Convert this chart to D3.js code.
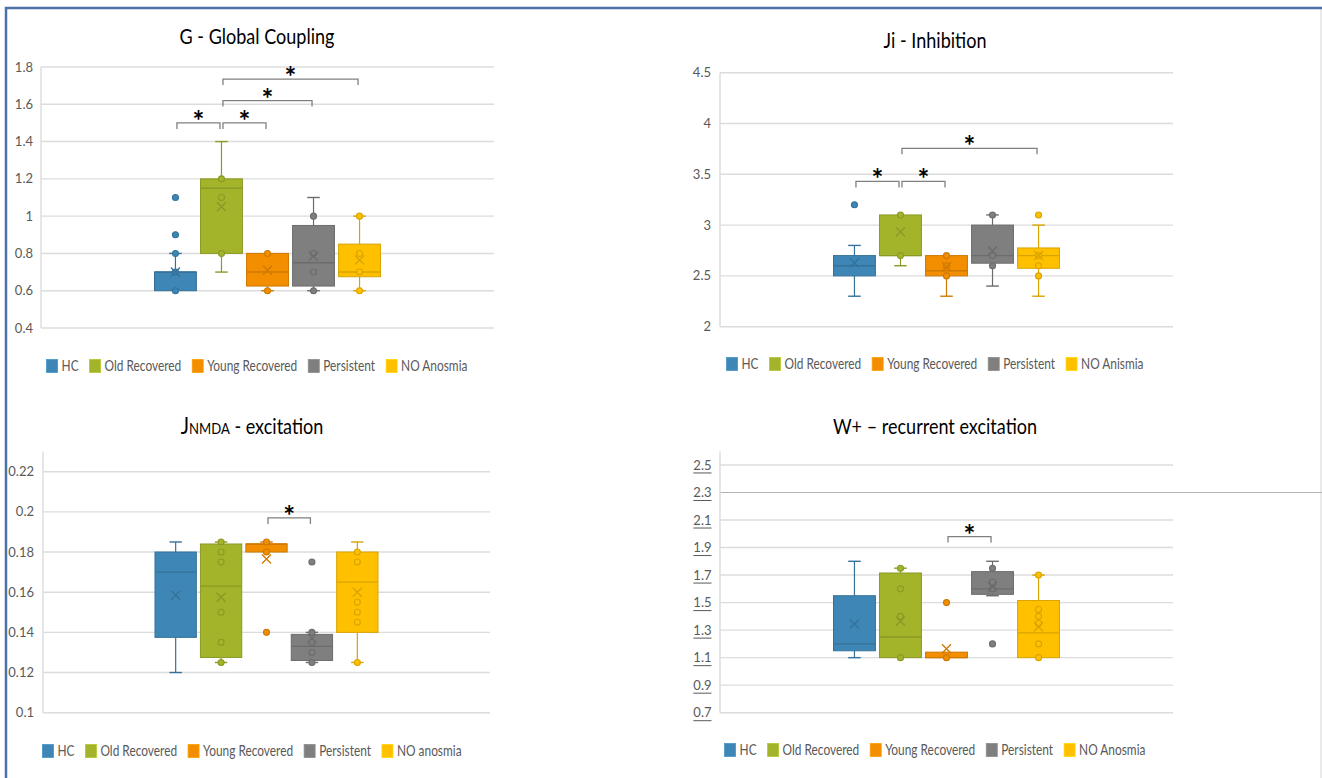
<!DOCTYPE html>
<html lang="en">
<head>
<meta charset="utf-8">
<title>Model parameters by group</title>
<script src="https://d3js.org/d3.v7.min.js"></script>
<style>
  body { margin: 0; background: #fff; }
  svg { display: block; font-family: Lato, "Open Sans", sans-serif; }
  .tick-label { fill: #595959; font-size: 13px; }
  .legend text { fill: #595959; font-size: 14.5px; }
  .title { fill: #000; font-size: 22px; }
  .star { font-size: 28px; font-weight: bold; fill: #000; }
</style>
</head>
<body>
<div id="chart"></div>
<script>
// groups and colours (same order in every panel)
var groups = ["HC", "Old Recovered", "Young Recovered", "Persistent", "NO Anosmia"];
var colors = ["#3e86b5", "#a3b42b", "#f28e00", "#7f7f7f", "#ffc000"];

// box stats: [min, q1, median, q3, max, mean]
// G - global coupling
var gStats = [
  [0.6, 0.6, 0.7, 0.7, 0.8, 0.70],
  [0.7, 0.8, 1.15, 1.2, 1.4, 1.05],
  [0.6, 0.625, 0.7, 0.8, 0.8, 0.71],
  [0.6, 0.625, 0.75, 0.95, 1.1, 0.785],
  [0.6, 0.675, 0.7, 0.85, 1.0, 0.765]
];
var gPoints = [[0.6, 0.7, 0.8], [0.8, 1.1, 1.2], [0.6, 0.8], [0.6, 0.7, 0.8, 1.0], [0.6, 0.7, 0.8, 1.0]];
var gOutliers = [[0.9, 1.1], [], [], [], []];
var gSig = [[0, 1, 1.5], [1, 2, 1.5], [1, 3, 1.62], [1, 4, 1.735]];
var gTicks = [0.4, 0.6, 0.8, 1, 1.2, 1.4, 1.6, 1.8];
var gLegend = ["HC", "Old Recovered", "Young Recovered", "Persistent", "NO Anosmia"];

// Ji - inhibition
var jiStats = [
  [2.3, 2.5, 2.6, 2.7, 2.8, 2.63],
  [2.6, 2.7, 2.7, 3.1, 3.1, 2.935],
  [2.3, 2.5, 2.55, 2.7, 2.7, 2.59],
  [2.4, 2.625, 2.7, 3.0, 3.1, 2.745],
  [2.3, 2.575, 2.7, 2.775, 3.0, 2.7]
];
var jiPoints = [[], [2.7, 3.1], [2.5, 2.6, 2.7], [2.6, 2.7, 3.1], [2.5, 2.6, 2.7]];
var jiOutliers = [[3.2], [], [], [], [3.1]];
var jiSig = [[0, 1, 3.43], [1, 2, 3.43], [1, 4, 3.756]];
var jiTicks = [2, 2.5, 3, 3.5, 4, 4.5];
var jiLegend = ["HC", "Old Recovered", "Young Recovered", "Persistent", "NO Anismia"];

// JNMDA - excitation
var jnStats = [
  [0.12, 0.1375, 0.17, 0.18, 0.185, 0.1585],
  [0.125, 0.1275, 0.163, 0.184, 0.185, 0.1575],
  [0.18, 0.18, 0.184, 0.184, 0.185, 0.1765],
  [0.125, 0.126, 0.133, 0.139, 0.14, 0.137],
  [0.125, 0.14, 0.165, 0.18, 0.185, 0.16]
];
var jnPoints = [[], [0.125, 0.135, 0.15, 0.175, 0.18, 0.185], [0.18, 0.185], [0.125, 0.13, 0.135, 0.14], [0.125, 0.145, 0.15, 0.155, 0.175, 0.18]];
var jnOutliers = [[], [], [0.14], [0.175], []];
var jnSig = [[2, 3, 0.197]];
var jnTicks = [0.1, 0.12, 0.14, 0.16, 0.18, 0.2, 0.22];
var jnLegend = ["HC", "Old Recovered", "Young Recovered", "Persistent", "NO anosmia"];

// W+ - recurrent excitation
var wStats = [
  [1.1, 1.15, 1.2, 1.55, 1.8, 1.345],
  [1.1, 1.1, 1.25, 1.715, 1.75, 1.365],
  [1.1, 1.1, 1.1, 1.14, 1.14, 1.165],
  [1.55, 1.56, 1.6, 1.725, 1.8, 1.615],
  [1.1, 1.1, 1.28, 1.515, 1.7, 1.325]
];
var wPoints = [[], [1.1, 1.4, 1.6, 1.75], [1.1], [1.6, 1.65, 1.75], [1.1, 1.2, 1.35, 1.4, 1.45, 1.7]];
var wOutliers = [[], [], [1.5], [1.2], []];
var wSig = [[2, 3, 1.98]];
var wTicks = [0.7, 0.9, 1.1, 1.3, 1.5, 1.7, 1.9, 2.1, 2.3, 2.5];
var wLegend = ["HC", "Old Recovered", "Young Recovered", "Persistent", "NO Anosmia"];

var panels = [
  { title: [["G - Global Coupling", 22]], stats: gStats, points: gPoints, outliers: gOutliers,
    sig: gSig, ticks: gTicks, legend: gLegend, domain: [0.4, 1.8], yRange: [328, 67],
    left: 41, right: 494, labelX: 33, cx: 257, titleY: 44, legendY: 366 },
  { title: [["Ji - Inhibition", 22]], stats: jiStats, points: jiPoints, outliers: jiOutliers,
    sig: jiSig, ticks: jiTicks, legend: jiLegend, domain: [2, 4.5], yRange: [326.7, 72.7],
    left: 720, right: 1173, labelX: 711, cx: 935, titleY: 48, legendY: 364 },
  { title: [["J", 24], ["NMDA", 16], [" - excitation", 22]], stats: jnStats, points: jnPoints, outliers: jnOutliers,
    sig: jnSig, ticks: jnTicks, legend: jnLegend, domain: [0.1, 0.23], yRange: [712.7, 451.6],
    left: 43, right: 490, labelX: 34, cx: 252, titleY: 434, legendY: 751 },
  { title: [["W+ \u2013 recurrent excitation", 22]], stats: wStats, points: wPoints, outliers: wOutliers,
    sig: wSig, ticks: wTicks, legend: wLegend, domain: [0.7, 2.6], yRange: [712.7, 451.2],
    left: 720, right: 1173, labelX: 711.5, cx: 935, titleY: 434, legendY: 750,
    underline: true, darkLine: 2.3 }
];

var W = 1322, H = 778;
var narrow = 0.82;   // squeeze Lato toward a Calibri-like width
var svg = d3.select("#chart").append("svg").attr("width", W).attr("height", H);

// outer frame
svg.append("line").attr("x1", 1321).attr("x2", 1321).attr("y1", 8).attr("y2", H)
  .attr("stroke", "#d6d6d6").attr("stroke-width", 1);
svg.append("path").attr("d", "M6," + H + "V8H" + W)
  .attr("fill", "none").attr("stroke", "#4a72a8").attr("stroke-width", 2.5);

panels.forEach(function(p) {
  var g = svg.append("g");
  var y = d3.scaleLinear().domain(p.domain).range(p.yRange);
  var w = p.right - p.left;
  var x = d3.scaleBand().domain(groups)
    .range([p.left + w * 0.246, p.right - w * 0.246])
    .paddingInner(0.09).paddingOuter(0.045);
  var bw = x.bandwidth();

  // gridlines
  g.selectAll(".grid").data(p.ticks).enter().append("line")
    .attr("x1", p.left).attr("x2", function(d) { return d === p.darkLine ? W : p.right; })
    .attr("y1", function(d) { return y(d); }).attr("y2", function(d) { return y(d); })
    .attr("stroke", function(d) { return d === p.darkLine ? "#b4b4b4" : "#dcdcdc"; })
    .attr("stroke-width", function(d) { return d === p.darkLine ? 1 : 1.4; });
  g.append("line").attr("x1", p.left).attr("x2", p.left)
    .attr("y1", y(p.domain[1])).attr("y2", y(p.domain[0]))
    .attr("stroke", "#dcdcdc").attr("stroke-width", 1.4);

  // tick labels
  var labels = g.selectAll(".tick-label").data(p.ticks).enter().append("text")
    .attr("class", "tick-label")
    .attr("x", p.labelX).attr("y", function(d) { return y(d); })
    .attr("dy", "0.35em").attr("text-anchor", "end")
    .text(function(d) { return String(+d.toFixed(3)); });
  if (p.underline) {
    labels.each(function(d) {
      var len = this.getComputedTextLength();
      g.append("line").attr("x1", p.labelX - len).attr("x2", p.labelX)
        .attr("y1", y(d) + 8).attr("y2", y(d) + 8)
        .attr("stroke", "#595959").attr("stroke-width", 1);
    });
  }

  // title
  var t = g.append("g").attr("transform", "translate(" + p.cx + "," + p.titleY + ") scale(" + narrow + ",1)")
    .append("text").attr("class", "title").attr("text-anchor", "middle");
  p.title.forEach(function(part) {
    t.append("tspan").style("font-size", part[1] + "px").text(part[0]);
  });

  // boxes
  groups.forEach(function(name, i) {
    var s = p.stats[i];
    var c = colors[i];
    var dark = d3.color(c).darker(0.45).formatHex();
    var cx = x(name) + bw / 2;
    var capW = bw * 0.3;
    var bg = g.append("g");

    // whiskers
    if (s[4] > s[3]) {
      bg.append("line").attr("x1", cx).attr("x2", cx).attr("y1", y(s[3])).attr("y2", y(s[4]))
        .attr("stroke", dark).attr("stroke-width", 1.2);
      bg.append("line").attr("x1", cx - capW / 2).attr("x2", cx + capW / 2)
        .attr("y1", y(s[4])).attr("y2", y(s[4])).attr("stroke", dark).attr("stroke-width", 1.4);
    }
    if (s[0] < s[1]) {
      bg.append("line").attr("x1", cx).attr("x2", cx).attr("y1", y(s[1])).attr("y2", y(s[0]))
        .attr("stroke", dark).attr("stroke-width", 1.2);
      bg.append("line").attr("x1", cx - capW / 2).attr("x2", cx + capW / 2)
        .attr("y1", y(s[0])).attr("y2", y(s[0])).attr("stroke", dark).attr("stroke-width", 1.4);
    }

    // box
    bg.append("rect").attr("x", x(name)).attr("width", bw)
      .attr("y", y(s[3])).attr("height", y(s[1]) - y(s[3]))
      .attr("fill", c).attr("stroke", dark).attr("stroke-width", 1);
    bg.append("line").attr("x1", x(name)).attr("x2", x(name) + bw)
      .attr("y1", y(s[2])).attr("y2", y(s[2])).attr("stroke", dark).attr("stroke-width", 1.4);

    // points
    bg.selectAll(".pt").data(p.points[i].concat(p.outliers[i])).enter().append("circle")
      .attr("cx", cx).attr("cy", function(d) { return y(d); }).attr("r", 3)
      .attr("fill", c).attr("stroke", dark).attr("stroke-width", 1.1);

    // mean marker
    var m = y(s[5]), k = 4.5;
    bg.append("path")
      .attr("d", "M" + (cx - k) + "," + (m - k) + "L" + (cx + k) + "," + (m + k) +
                 "M" + (cx - k) + "," + (m + k) + "L" + (cx + k) + "," + (m - k))
      .attr("stroke", dark).attr("stroke-width", 1.3).attr("fill", "none");
  });

  // significance brackets
  p.sig.forEach(function(b) {
    var x1 = x(groups[b[0]]) + bw / 2 + 1.5;
    var x2 = x(groups[b[1]]) + bw / 2 - 1.5;
    var yy = y(b[2]);
    g.append("path").attr("d", "M" + x1 + "," + (yy + 6) + "V" + yy + "H" + x2 + "V" + (yy + 6))
      .attr("fill", "none").attr("stroke", "#808080").attr("stroke-width", 1.3);
    g.append("text").attr("class", "star").attr("x", (x1 + x2) / 2).attr("y", yy + 8)
      .attr("text-anchor", "middle").text("*");
  });

  // legend
  var lg = g.append("g").attr("class", "legend");
  var pos = 0;
  p.legend.forEach(function(label, i) {
    var item = lg.append("g").attr("transform", "translate(" + pos + ",0)");
    item.append("rect").attr("x", 0).attr("y", p.legendY - 6.5).attr("width", 11).attr("height", 13)
      .attr("fill", colors[i]).attr("stroke", d3.color(colors[i]).brighter(0.3).formatHex()).attr("stroke-width", 0.8);
    var txt = item.append("g").attr("transform", "translate(15," + p.legendY + ") scale(" + narrow + ",1)")
      .append("text").attr("dy", "0.35em").text(label);
    pos += 15 + txt.node().getComputedTextLength() * narrow + 11;
  });
  var total = pos - 11;
  lg.attr("transform", "translate(" + (p.cx - total / 2) + ",0)");
});
</script>
</body>
</html>
